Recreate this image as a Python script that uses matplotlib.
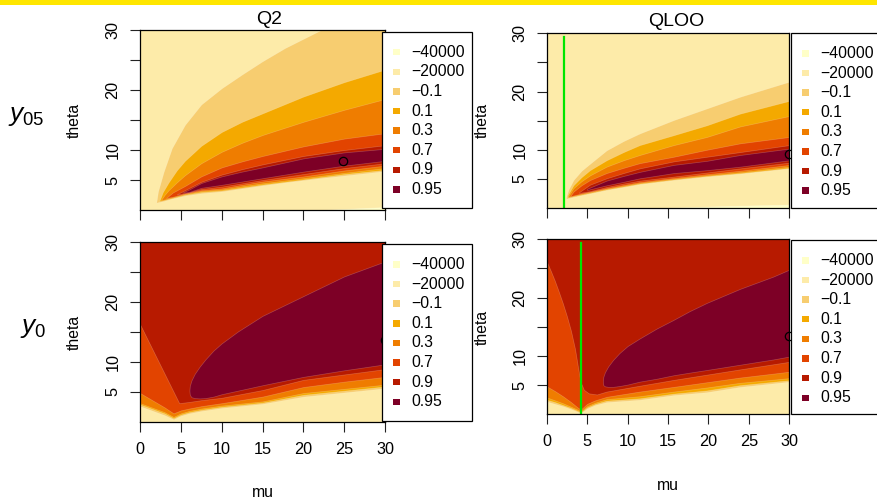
import matplotlib
matplotlib.use('Agg')
import matplotlib.pyplot as plt
from matplotlib.patches import Rectangle
import numpy as np

plt.rcParams['font.family'] = ['Liberation Sans', 'DejaVu Sans']
plt.rcParams['mathtext.fontset'] = 'custom'
plt.rcParams['mathtext.rm'] = 'Liberation Sans'
plt.rcParams['mathtext.it'] = 'Liberation Sans:italic'

# ---------------- data ----------------
level_labels = ['-40000', '-20000', '-0.1', '0.1', '0.3', '0.7', '0.9', '0.95']
level_colors = ['#FFFFC8', '#FDEBA9', '#F7CD70', '#F4A900', '#EF7D00',
                '#E24400', '#B71A00', '#7D0026']
mu_ticks = [0, 5, 10, 15, 20, 25, 30]
theta_ticks = [5, 10, 15, 20, 25, 30]
theta_tick_labels = ['5', '10', '', '20', '', '30']
col_titles = ['Q2', 'QLOO']
row_labels = [r'$y_{05}$', r'$y_{0}$']

# --- top-left (y05, Q2): region boundaries theta(mu) for value >= level
tl_n40_mu = [22, 26, 30];             tl_n40_up = [0.0, 0.25, 0.5]
tl_m01_mu = [2.0, 2.2, 2.9, 3.9, 5.5, 7.5, 10, 12.5, 15, 17.75, 22, 26, 30]
tl_m01_lo = [1.2, 1.3, 1.5, 1.9, 2.4, 2.8, 3.1, 3.6, 4.1, 4.6, 5.3, 5.9, 6.5]
tl_m01_up = [1.3, 3.1, 6.4, 10.3, 14.2, 17.6, 20.3, 22.6, 24.8, 27.0, 29.9, 32.5, 35]
tl_p01_mu = [2.4, 2.8, 3.5, 4.5, 5.5, 7.5, 10, 12.5, 15, 20, 25, 30]
tl_p01_lo = [1.5, 1.6, 1.85, 2.2, 2.55, 3.0, 3.25, 3.75, 4.25, 5.1, 6.0, 6.7]
tl_p01_up = [1.6, 3.0, 4.6, 6.6, 8.2, 10.7, 13.0, 14.7, 16.1, 18.9, 21.3, 23.4]
tl_p03_mu = [2.6, 3.0, 3.5, 4.5, 5.5, 7.5, 10, 12.5, 15, 20, 25, 30]
tl_p03_lo = [1.65, 1.75, 1.95, 2.3, 2.65, 3.15, 3.4, 3.95, 4.45, 5.3, 6.2, 7.0]
tl_p03_up = [1.7, 2.5, 3.3, 4.6, 5.8, 7.8, 9.7, 11.2, 12.5, 14.7, 16.7, 18.5]
tl_p07_mu = [3.2, 4.0, 5.5, 7.5, 10, 12.5, 15, 20, 25, 30]
tl_p07_lo = [2.0, 2.2, 2.75, 3.3, 3.6, 4.2, 4.75, 5.6, 6.6, 7.4]
tl_p07_up = [2.0, 2.9, 4.0, 5.6, 7.1, 8.1, 9.0, 10.6, 11.9, 12.8]
tl_p09_mu = [4.5, 5.5, 7.5, 10, 12.5, 15, 20, 25, 30]
tl_p09_lo = [2.6, 2.8, 3.5, 3.9, 4.45, 5.0, 6.0, 7.0, 7.8]
tl_p09_up = [2.6, 3.3, 4.7, 5.9, 6.8, 7.6, 9.0, 10.0, 10.8]
tl_p95_mu = [5.2, 6.0, 7.5, 10, 12.5, 15, 20, 25, 30]
tl_p95_lo = [2.9, 3.0, 3.7, 4.2, 4.75, 5.3, 6.4, 7.4, 8.2]
tl_p95_up = [2.9, 3.4, 4.5, 5.6, 6.4, 7.1, 8.6, 9.6, 10.2]
tl_point = (24.8, 8.2)

# --- top-right (y05, QLOO)
tr_n40_mu = [14, 22, 30];             tr_n40_up = [0.0, 0.35, 0.6]
tr_m01_mu = [2.4, 2.7, 3.3, 4.3, 5.35, 7.4, 9.5, 11.5, 15.7, 19.8, 23.9, 30]
tr_m01_lo = [1.6, 1.7, 1.9, 2.2, 2.5, 3.1, 3.6, 4.1, 4.8, 5.4, 5.9, 6.8]
tr_m01_up = [1.9, 3.2, 4.8, 6.4, 7.6, 9.9, 11.5, 12.8, 15.1, 17.1, 19.1, 21.7]
tr_p01_mu = [2.6, 3.3, 4.3, 5.35, 7.4, 9.5, 11.5, 15.7, 19.8, 23.9, 30]
tr_p01_lo = [1.8, 2.0, 2.3, 2.6, 3.2, 3.7, 4.2, 4.9, 5.5, 6.0, 6.9]
tr_p01_up = [2.2, 3.9, 5.3, 6.5, 8.2, 9.6, 10.8, 12.5, 14.2, 16.2, 18.4]
tr_p03_mu = [2.7, 3.3, 4.3, 5.35, 7.4, 9.5, 11.5, 15.7, 19.8, 23.9, 30]
tr_p03_lo = [1.9, 2.1, 2.4, 2.7, 3.3, 3.8, 4.3, 5.0, 5.6, 6.15, 7.1]
tr_p03_up = [2.1, 3.4, 4.6, 5.6, 7.1, 8.2, 9.1, 10.8, 12.2, 14.0, 15.8]
tr_p07_mu = [2.9, 3.3, 4.3, 5.35, 7.4, 9.5, 11.5, 15.7, 19.8, 23.9, 30]
tr_p07_lo = [2.0, 2.15, 2.5, 2.8, 3.4, 3.95, 4.45, 5.15, 5.8, 6.4, 7.4]
tr_p07_up = [2.0, 2.8, 3.9, 4.8, 6.0, 6.9, 7.7, 8.8, 10.0, 11.1, 12.2]
tr_p09_mu = [4.0, 5.35, 7.4, 9.5, 11.5, 15.7, 19.8, 23.9, 30]
tr_p09_lo = [2.6, 2.9, 3.6, 4.2, 4.7, 5.4, 6.1, 6.8, 7.8]
tr_p09_up = [2.7, 4.0, 5.1, 6.0, 6.8, 8.0, 8.8, 9.6, 10.8]
tr_p95_mu = [5.0, 7.4, 9.5, 11.5, 15.7, 19.8, 23.9, 30]
tr_p95_lo = [3.1, 3.9, 4.5, 5.1, 6.0, 6.5, 7.1, 8.2]
tr_p95_up = [3.3, 4.7, 5.5, 6.2, 7.4, 8.1, 9.1, 10.2]
tr_point = (30.0, 9.3)
tr_vline_mu = 2.2

# --- bottom-left (y0, Q2): lower boundaries (regions extend to the top)
bl_mu = [0, 1, 2, 3, 4.1, 5, 6, 7.5, 10, 15, 20, 25, 30]
bl_m01_lo = [2.6, 2.1, 1.6, 1.1, 0.4, 1.0, 1.4, 1.8, 2.3, 3.0, 4.2, 4.9, 5.6]
bl_p01_lo = [2.9, 2.4, 1.9, 1.4, 0.6, 1.2, 1.6, 2.0, 2.5, 3.2, 4.5, 5.2, 5.9]
bl_p03_lo = [3.1, 2.6, 2.1, 1.6, 0.8, 1.4, 1.8, 2.2, 2.7, 3.4, 4.8, 5.5, 6.2]
bl_p07_lo = [4.8, 4.0, 3.2, 2.4, 1.4, 1.9, 2.2, 2.6, 3.1, 4.2, 5.8, 6.7, 7.5]
bl_p09_mu = [0, 4.8, 6, 7.5, 10, 15, 20, 25, 30]
bl_p09_lo = [16.3, 3.1, 3.3, 3.6, 4.0, 5.3, 7.0, 7.9, 8.8]
bl_p95_mu = [6.05, 6.1, 6.3, 6.7, 7.3, 8.0, 9.0, 10, 12, 15, 20, 25, 30]
bl_p95_lo = [5.2, 4.5, 4.1, 3.95, 3.9, 3.95, 4.2, 4.6, 5.2, 6.1, 7.5, 8.6, 9.6]
bl_p95_up = [5.2, 6.0, 6.9, 8.0, 9.2, 10.4, 11.9, 13.1, 15.1, 17.7, 21.0, 24.3, 26.8]
bl_point = (30.0, 13.6)

# --- bottom-right (y0, QLOO)
br_mu = [0, 1, 2, 3, 3.8, 4.2, 5, 6, 7.4, 11.5, 15.7, 19.8, 23.9, 30]
br_m01_lo = [2.2, 1.8, 1.4, 0.9, 0.45, 0.2, 1.0, 1.6, 2.1, 2.5, 3.3, 3.8, 4.7, 5.6]
br_p01_lo = [2.5, 2.1, 1.6, 1.1, 0.6, 0.35, 1.2, 1.8, 2.35, 2.75, 3.55, 4.1, 5.0, 5.85]
br_p03_lo = [2.9, 2.4, 1.9, 1.3, 0.8, 0.5, 1.4, 2.0, 2.6, 3.1, 3.9, 4.6, 5.4, 6.2]
br_p07_lo = [4.8, 4.0, 3.1, 2.1, 1.2, 0.8, 1.8, 2.4, 3.0, 3.9, 4.7, 5.5, 6.3, 7.3]
br_p09_mu = [0, 0.5, 1.0, 1.5, 2.0, 2.5, 3.0, 3.5, 3.9, 4.2, 4.6, 5.2, 6.2, 7.4,
             11.5, 15.7, 19.8, 23.9, 30]
br_p09_lo = [26.2, 24.6, 22.9, 21.0, 19.0, 16.8, 14.3, 11.2, 7.8, 5.5, 4.2, 3.6,
             3.4, 3.9, 4.9, 5.9, 6.8, 7.7, 9.0]
br_p95_mu = [6.95, 7.0, 7.2, 7.6, 8.2, 9.0, 10.0, 11.5, 13.6, 15.7, 17.7, 19.8,
             23.9, 28, 30]
br_p95_lo = [5.6, 5.0, 4.8, 4.7, 4.7, 4.85, 5.1, 5.6, 6.1, 6.7, 7.15, 7.6, 8.5,
             9.4, 9.9]
br_p95_up = [5.6, 6.4, 7.2, 8.2, 9.3, 10.5, 11.7, 13.0, 14.7, 16.2, 17.7, 19.1,
             21.5, 23.6, 24.8]
br_point = (30.0, 13.4)
br_vline_mu = 4.2

# ---------------- layout ----------------
W, H = 877, 498
fig = plt.figure(figsize=(W / 100, H / 100), dpi=100)


def fx(x):
    return x / W


def fy(y):
    return 1 - y / H


def make_axes(x0, x1, y0, y1):
    ax = fig.add_axes([fx(x0), fy(y1), (x1 - x0) / W, (y1 - y0) / H])
    ax.set_facecolor(level_colors[1])
    ax.set_xlim(0, 30)
    ax.set_ylim(0, 30)
    ax.set_xticks(mu_ticks)
    ax.set_yticks(theta_ticks)
    ax.set_yticklabels(theta_tick_labels, rotation=90, va='center')
    ax.tick_params(direction='out', length=7.5, width=0.8, labelsize=11.7,
                   colors='#222222', labelcolor='black')
    ax.tick_params(axis='y', pad=6.5)
    ax.tick_params(axis='x', pad=7.0)
    for s in ax.spines.values():
        s.set_linewidth(0.9)
        s.set_color('black')
        s.set_zorder(4)
    return ax


def band(ax, mu, lo, up, color):
    ax.fill_between(mu, lo, up, facecolor=color, edgecolor=(1, 1, 1, 0.22),
                    linewidth=0.5, zorder=2)


ax_tl = make_axes(140, 385, 30, 210)
ax_tr = make_axes(546.7, 789.3, 33.3, 208)
ax_bl = make_axes(140, 385, 242.3, 421.7)
ax_br = make_axes(546.7, 789.3, 239.3, 414.3)
for ax in (ax_tl, ax_tr):
    ax.set_xticklabels([])

# top-left
band(ax_tl, tl_n40_mu, 0, tl_n40_up, level_colors[0])
band(ax_tl, tl_m01_mu, tl_m01_lo, tl_m01_up, level_colors[2])
band(ax_tl, tl_p01_mu, tl_p01_lo, tl_p01_up, level_colors[3])
band(ax_tl, tl_p03_mu, tl_p03_lo, tl_p03_up, level_colors[4])
band(ax_tl, tl_p07_mu, tl_p07_lo, tl_p07_up, level_colors[5])
band(ax_tl, tl_p09_mu, tl_p09_lo, tl_p09_up, level_colors[6])
band(ax_tl, tl_p95_mu, tl_p95_lo, tl_p95_up, level_colors[7])
ax_tl.plot(*tl_point, 'o', mfc='none', mec='black', ms=6, mew=0.9, zorder=3)

# top-right
band(ax_tr, tr_n40_mu, 0, tr_n40_up, level_colors[0])
band(ax_tr, tr_m01_mu, tr_m01_lo, tr_m01_up, level_colors[2])
band(ax_tr, tr_p01_mu, tr_p01_lo, tr_p01_up, level_colors[3])
band(ax_tr, tr_p03_mu, tr_p03_lo, tr_p03_up, level_colors[4])
band(ax_tr, tr_p07_mu, tr_p07_lo, tr_p07_up, level_colors[5])
band(ax_tr, tr_p09_mu, tr_p09_lo, tr_p09_up, level_colors[6])
band(ax_tr, tr_p95_mu, tr_p95_lo, tr_p95_up, level_colors[7])
ax_tr.plot(*tr_point, 'o', mfc='none', mec='black', ms=6, mew=0.9, zorder=3,
           clip_on=False)
ax_tr.plot([tr_vline_mu, tr_vline_mu], [0, 29.3], color='#00E600', lw=1.6, zorder=3)

# bottom-left
top = 31
band(ax_bl, bl_mu, bl_m01_lo, top, level_colors[2])
band(ax_bl, bl_mu, bl_p01_lo, top, level_colors[3])
band(ax_bl, bl_mu, bl_p03_lo, top, level_colors[4])
band(ax_bl, bl_mu, bl_p07_lo, top, level_colors[5])
band(ax_bl, bl_p09_mu, bl_p09_lo, top, level_colors[6])
band(ax_bl, bl_p95_mu, bl_p95_lo, bl_p95_up, level_colors[7])
ax_bl.plot(*bl_point, 'o', mfc='none', mec='black', ms=6, mew=0.9, zorder=3,
           clip_on=False)

# bottom-right
band(ax_br, br_mu, br_m01_lo, top, level_colors[2])
band(ax_br, br_mu, br_p01_lo, top, level_colors[3])
band(ax_br, br_mu, br_p03_lo, top, level_colors[4])
band(ax_br, br_mu, br_p07_lo, top, level_colors[5])
band(ax_br, br_p09_mu, br_p09_lo, top, level_colors[6])
band(ax_br, br_p95_mu, br_p95_lo, br_p95_up, level_colors[7])
ax_br.plot(*br_point, 'o', mfc='none', mec='black', ms=6, mew=0.9, zorder=3,
           clip_on=False)
ax_br.plot([br_vline_mu, br_vline_mu], [0, 29.3], color='#00E600', lw=1.6, zorder=3)


# legends (drawn over the plot edge, as in the original)
def draw_legend(x0, y0, x1, y1):
    fig.add_artist(Rectangle((fx(x0), fy(y1)), (x1 - x0) / W, (y1 - y0) / H,
                             transform=fig.transFigure, facecolor='white',
                             edgecolor='black', lw=0.9, zorder=5))
    for i, (lab, col) in enumerate(zip(level_labels, level_colors)):
        yy = y0 + 20.5 + 19.6 * i
        fig.add_artist(Rectangle((fx(x0 + 14.5 - 3.2), fy(yy + 3.2)), 6.4 / W, 6.4 / H,
                                 transform=fig.transFigure, facecolor=col,
                                 edgecolor='none', zorder=6))
        fig.text(fx(x0 + 29), fy(yy), lab.replace('-', '\u2212'), ha='left',
                 va='center', fontsize=11.3, zorder=6)


draw_legend(382, 31.7, 472, 208.3)
draw_legend(791, 33, 885, 208.3)
draw_legend(382, 244, 472, 421)
draw_legend(791, 240, 885, 414)

# titles, axis labels, row labels
fig.text(fx(268.8), fy(24), col_titles[0], ha='center', va='baseline', fontsize=14)
fig.text(fx(675.8), fy(25.5), col_titles[1], ha='center', va='baseline', fontsize=14)
for (xb, yc) in [(78.3, 120), (486.7, 120.5), (78.3, 332), (486.7, 327)]:
    fig.text(fx(xb), fy(yc), 'theta', rotation=90, rotation_mode='anchor',
             ha='center', va='baseline', fontsize=11.3)
fig.text(fx(262.5), fy(496.7), 'mu', ha='center', va='baseline', fontsize=11.3)
fig.text(fx(668), fy(490), 'mu', ha='center', va='baseline', fontsize=11.3)
fig.text(fx(8), fy(120.5), row_labels[0], ha='left', va='baseline', fontsize=19)
fig.text(fx(20), fy(332.5), row_labels[1], ha='left', va='baseline', fontsize=19)

# yellow strip at the very top
fig.add_artist(Rectangle((0, fy(5)), 1, 5 / H, transform=fig.transFigure,
                         facecolor='#FFE600', edgecolor='none', zorder=7))

fig.savefig('out.png', dpi=100)
